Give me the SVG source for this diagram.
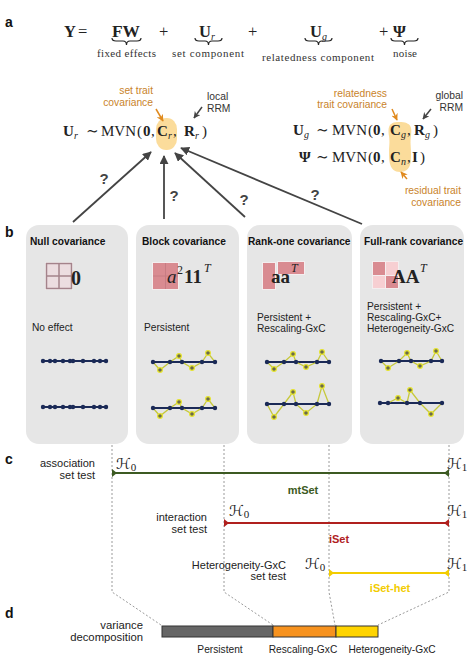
<svg xmlns="http://www.w3.org/2000/svg" width="474" height="656" viewBox="0 0 474 656">
<defs>
<style>
.lbl{font-family:"Liberation Sans",Arial,sans-serif;font-weight:bold;font-size:14px;fill:#111}
.sans{font-family:"Liberation Sans",Arial,sans-serif;font-size:10.2px;fill:#222}
.hdr{font-family:"Liberation Sans",Arial,sans-serif;font-size:10.2px;font-weight:bold;fill:#111}
.c11{font-family:"Liberation Sans",Arial,sans-serif;font-size:11px;fill:#222}
.orn{font-family:"Liberation Sans",Arial,sans-serif;font-size:10.3px;fill:#c9832a}
.gry{font-family:"Liberation Sans",Arial,sans-serif;font-size:10.3px;fill:#333}
.q{font-family:"Liberation Sans",Arial,sans-serif;font-size:15px;font-weight:bold;fill:#444}
.m{font-family:"Liberation Serif","DejaVu Serif",serif;font-size:15px;fill:#222}
.mb{font-family:"Liberation Serif","DejaVu Serif",serif;font-size:15px;font-weight:bold;fill:#222}
.mi{font-family:"Liberation Serif","DejaVu Serif",serif;font-size:10px;font-style:italic;fill:#222}
.ms{font-family:"Liberation Serif","DejaVu Serif",serif;font-size:11px;fill:#333}
.ea{font-size:16.5px}
.cal{font-family:"DejaVu Serif","DejaVu Sans",serif;font-size:15px;font-style:italic;fill:#222}
.sub0{font-family:"Liberation Serif",serif;font-size:11px;font-style:normal}
.brace{fill:none;stroke:#222;stroke-width:1.2}
.box{fill:#e6e6e6}
.navy{stroke:#1b2a57;stroke-width:2.2;fill:none}
.nd{fill:#1b2a57}
.yl{stroke:#c6c83c;stroke-width:1.3;fill:none}
.yd{fill:#6b6b4a;stroke:#e8e630;stroke-width:1.2}
.dot{stroke:#9a9a9a;stroke-width:1;stroke-dasharray:2,2;fill:none}
.arr{stroke:#444;stroke-width:1.8;fill:none;marker-end:url(#ah)}
.oarr{stroke:#e08a1e;stroke-width:1.5;fill:none;marker-end:url(#oh)}
.garr{stroke:#444;stroke-width:1.5;fill:none;marker-end:url(#gh)}
</style>
<marker id="ah" viewBox="0 0 10 10" refX="9" refY="5" markerWidth="9" markerHeight="9" markerUnits="userSpaceOnUse" orient="auto"><path d="M0,0 L10,5 L0,10 Z" fill="#444"/></marker>
<marker id="oh" viewBox="0 0 10 10" refX="9" refY="5" markerWidth="7" markerHeight="7" markerUnits="userSpaceOnUse" orient="auto"><path d="M0,0 L10,5 L0,10 L3,5 Z" fill="#e08a1e"/></marker>
<marker id="gh" viewBox="0 0 10 10" refX="9" refY="5" markerWidth="7" markerHeight="7" markerUnits="userSpaceOnUse" orient="auto"><path d="M0,0 L10,5 L0,10 L3,5 Z" fill="#444"/></marker>
<marker id="tgreen" viewBox="0 0 6 8" refX="6" refY="4" markerWidth="6" markerHeight="8" markerUnits="userSpaceOnUse" orient="auto-start-reverse"><path d="M6,0 V8 L1,4 Z" fill="#3c5a22"/></marker>
<marker id="tred" viewBox="0 0 6 8" refX="6" refY="4" markerWidth="6" markerHeight="8" markerUnits="userSpaceOnUse" orient="auto-start-reverse"><path d="M6,0 V8 L1,4 Z" fill="#b0201e"/></marker>
<marker id="tyel" viewBox="0 0 6 8" refX="6" refY="4" markerWidth="6" markerHeight="8" markerUnits="userSpaceOnUse" orient="auto-start-reverse"><path d="M6,0 V8 L1,4 Z" fill="#f2cc00"/></marker>
</defs>
<rect width="474" height="656" fill="#ffffff"/>

<!-- panel labels -->
<text class="lbl" x="5" y="27">a</text>
<text class="lbl" x="5" y="237">b</text>
<text class="lbl" x="5" y="464">c</text>
<text class="lbl" x="5" y="618">d</text>

<!-- panel a equation -->
<g id="eq-a">
<text class="mb ea" x="64" y="37">Y</text>
<text class="m ea" x="78" y="37">=</text>
<text class="mb ea" x="112" y="37" textLength="28" lengthAdjust="spacingAndGlyphs">FW</text>
<path class="brace" d="M112,38 Q112,41 116,41 L123,41 Q126.5,41 126.5,45 Q126.5,41 130,41 L137,41 Q141,41 141,38"/>
<text class="ms" x="126.5" y="57" text-anchor="middle" textLength="59" lengthAdjust="spacing">fixed effects</text>
<text class="m ea" x="159" y="37">+</text>
<text class="mb ea" x="199" y="37">U</text><text class="mi" x="211" y="40">r</text>
<path class="brace" d="M195,38 Q195,41 199,41 L205,41 Q208.5,41 208.5,45 Q208.5,41 212,41 L218,41 Q222,41 222,38"/>
<text class="ms" x="208" y="57" text-anchor="middle" textLength="72" lengthAdjust="spacing">set component</text>
<text class="m ea" x="248" y="37">+</text>
<text class="mb ea" x="310" y="37">U</text><text class="mi" x="322" y="40">g</text>
<path class="brace" d="M305,38 Q305,41 309,41 L315,41 Q318.5,41 318.5,45 Q318.5,41 322,41 L328,41 Q332,41 332,38"/>
<text class="ms" x="318" y="61" text-anchor="middle" textLength="112" lengthAdjust="spacing">relatedness component</text>
<text class="m ea" x="379" y="37">+</text>
<text class="mb ea" x="393" y="37">Ψ</text>
<path class="brace" d="M391,38 Q391,41 395,41 L401,41 Q404.5,41 404.5,45 Q404.5,41 408,41 L414,41 Q418,41 418,38"/>
<text class="ms" x="405" y="57" text-anchor="middle" textLength="24" lengthAdjust="spacing">noise</text>
</g>

<!-- highlight blobs -->
<g id="blobs">
<rect x="156" y="118" width="21" height="32" rx="10" ry="11" fill="#f9d07a" opacity="0.75"/>
<path d="M399,122 C412,122 412,128 411,136 C410,143 411,146 411,152 C411,160 412,172 400,172 C389,172 389,160 389,152 C389,146 390,143 389,136 C388,128 388,122 399,122 Z" fill="#f9d07a" opacity="0.75"/>
</g>

<!-- Ur equation -->
<g id="eq-ur">
<text class="mb" x="63" y="136">U</text><text class="mi" x="74" y="139">r</text>
<text class="m" x="86" y="136">∼</text>
<text class="m" x="101" y="136" textLength="35" lengthAdjust="spacingAndGlyphs">MVN</text>
<text class="m" x="137" y="136">(</text>
<text class="mb" x="143" y="136">0</text><text class="m" x="151" y="136">,</text>
<text class="mb" x="157" y="136">C</text><text class="mi" x="168" y="139">r</text><text class="m" x="173" y="136">,</text>
<text class="mb" x="184" y="136">R</text><text class="mi" x="195" y="139">r</text><text class="m" x="202" y="136">)</text>
</g>
<g id="lbl-set-trait">
<text class="orn" x="153" y="94" text-anchor="end">set trait</text>
<text class="orn" x="153" y="106" text-anchor="end">covariance</text>
</g>
<g id="lbl-local">
<text class="gry" x="207" y="100">local</text>
<text class="gry" x="207" y="112">RRM</text>
</g>

<!-- Ug / Psi equations -->
<g id="eq-ug">
<text class="mb" x="293" y="135">U</text><text class="mi" x="304" y="138">g</text>
<text class="m" x="316" y="135">∼</text>
<text class="m" x="332" y="135" textLength="35" lengthAdjust="spacingAndGlyphs">MVN</text>
<text class="m" x="368" y="135">(</text>
<text class="mb" x="373" y="135">0</text><text class="m" x="381" y="135">,</text>
<text class="mb" x="390" y="135">C</text><text class="mi" x="401" y="138">g</text><text class="m" x="407" y="135">,</text>
<text class="mb" x="414" y="135">R</text><text class="mi" x="425" y="138">g</text><text class="m" x="433" y="135">)</text>
</g>
<g id="eq-psi">
<text class="mb" x="299" y="162">Ψ</text>
<text class="m" x="316" y="162">∼</text>
<text class="m" x="332" y="162" textLength="35" lengthAdjust="spacingAndGlyphs">MVN</text>
<text class="m" x="368" y="162">(</text>
<text class="mb" x="373" y="162">0</text><text class="m" x="381" y="162">,</text>
<text class="mb" x="390" y="162">C</text><text class="mi" x="401" y="165">n</text><text class="m" x="407" y="162">,</text>
<text class="mb" x="412" y="162">I</text><text class="m" x="420" y="162">)</text>
</g>
<g id="lbl-rel-trait">
<text class="orn" x="387" y="97" text-anchor="end">relatedness</text>
<text class="orn" x="387" y="108" text-anchor="end">trait covariance</text>
</g>
<g id="lbl-global">
<text class="gry" x="463" y="99" text-anchor="end">global</text>
<text class="gry" x="463" y="111" text-anchor="end">RRM</text>
</g>
<g id="lbl-residual">
<text class="orn" x="461" y="194" text-anchor="end">residual trait</text>
<text class="orn" x="461" y="206" text-anchor="end">covariance</text>
</g>

<!-- connectors -->
<g id="connectors">
<line class="oarr" x1="156" y1="109" x2="163" y2="121"/>
<line class="garr" x1="202" y1="107" x2="194" y2="118"/>
<line class="oarr" x1="392" y1="109" x2="397" y2="120"/>
<line class="garr" x1="431" y1="109" x2="423" y2="119"/>
<line class="oarr" x1="407" y1="179" x2="401" y2="172"/>
<line class="arr" x1="73" y1="222" x2="151" y2="152"/>
<line class="arr" x1="164" y1="219" x2="164" y2="156"/>
<line class="arr" x1="245" y1="217" x2="175" y2="153"/>
<line class="arr" x1="362" y1="224" x2="181" y2="148"/>
<text class="q" x="104" y="184" text-anchor="middle">?</text>
<text class="q" x="174" y="201" text-anchor="middle">?</text>
<text class="q" x="244" y="205" text-anchor="middle">?</text>
<text class="q" x="315" y="200" text-anchor="middle">?</text>
</g>

<!-- panel b -->
<g id="box-null">
<rect class="box" x="26" y="225" width="102" height="219" rx="13"/>
<text class="hdr" x="30" y="245">Null covariance</text>
<rect x="45" y="262" width="28" height="28" fill="#f4f0f1"/>
<rect x="46.5" y="263.5" width="25" height="25" fill="#ecdde0" stroke="#a4838b" stroke-width="1.5"/>
<line x1="59" y1="263.5" x2="59" y2="288.5" stroke="#a4838b" stroke-width="1.5"/>
<line x1="46.5" y1="276" x2="71.5" y2="276" stroke="#a4838b" stroke-width="1.5"/>
<text class="mb" x="71" y="285" style="font-size:20px">0</text>
<text class="sans" x="32" y="331">No effect</text>
<line class="navy" x1="42" y1="361" x2="108" y2="361"/>
<g class="nd"><circle cx="43" cy="361" r="2.2"/><circle cx="50" cy="361" r="2.2"/><circle cx="55" cy="361" r="2.2"/><circle cx="63" cy="361" r="2.2"/><circle cx="70" cy="361" r="2.2"/><circle cx="73" cy="361" r="2.2"/><circle cx="83" cy="361" r="2.2"/><circle cx="94" cy="361" r="2.2"/><circle cx="100" cy="361" r="2.2"/><circle cx="106" cy="361" r="2.2"/></g>
<line class="navy" x1="42" y1="407" x2="108" y2="407"/>
<g class="nd"><circle cx="43" cy="407" r="2.2"/><circle cx="50" cy="407" r="2.2"/><circle cx="55" cy="407" r="2.2"/><circle cx="63" cy="407" r="2.2"/><circle cx="70" cy="407" r="2.2"/><circle cx="73" cy="407" r="2.2"/><circle cx="83" cy="407" r="2.2"/><circle cx="94" cy="407" r="2.2"/><circle cx="100" cy="407" r="2.2"/><circle cx="106" cy="407" r="2.2"/></g>
</g>

<g id="box-block">
<rect class="box" x="136" y="225" width="103" height="219" rx="13"/>
<text class="hdr" x="142" y="245">Block covariance</text>
<rect x="152" y="262" width="27" height="28" fill="#f4eeef"/>
<rect x="153" y="263" width="25" height="26" fill="#d98b91"/>
<line x1="165.5" y1="263" x2="165.5" y2="289" stroke="#c77c83" stroke-width="1"/>
<line x1="153" y1="276" x2="178" y2="276" stroke="#c77c83" stroke-width="1"/>
<text class="m" x="167" y="283" style="font-size:19px;font-style:italic">a</text>
<text class="m" x="177" y="274" style="font-size:12px">2</text>
<text class="mb" x="184" y="283" style="font-size:19px">11</text>
<text class="m" x="204" y="272" style="font-size:12px;font-style:italic">T</text>
<text class="sans" x="144" y="331">Persistent</text>
<line class="navy" x1="152" y1="362" x2="217" y2="362"/>
<polyline class="yl" points="153,362 160,370 170,362 179,356 182,362 192,368 202,362 208,353 215,362"/>
<g class="nd"><circle cx="153" cy="362" r="2.2"/><circle cx="170" cy="362" r="2.2"/><circle cx="182" cy="362" r="2.2"/><circle cx="202" cy="362" r="2.2"/><circle cx="215" cy="362" r="2.2"/></g>
<g class="yd"><circle cx="160" cy="370" r="2.4"/><circle cx="179" cy="356" r="2.4"/><circle cx="192" cy="368" r="2.4"/><circle cx="208" cy="353" r="2.4"/></g>
<line class="navy" x1="152" y1="408" x2="217" y2="408"/>
<polyline class="yl" points="153,408 160,416 170,408 179,402 182,408 192,414 202,408 208,399 215,408"/>
<g class="nd"><circle cx="153" cy="408" r="2.2"/><circle cx="170" cy="408" r="2.2"/><circle cx="182" cy="408" r="2.2"/><circle cx="202" cy="408" r="2.2"/><circle cx="215" cy="408" r="2.2"/></g>
<g class="yd"><circle cx="160" cy="416" r="2.4"/><circle cx="179" cy="402" r="2.4"/><circle cx="192" cy="414" r="2.4"/><circle cx="208" cy="399" r="2.4"/></g>
</g>

<g id="box-rankone">
<rect class="box" x="247" y="225" width="105" height="219" rx="13"/>
<text class="hdr" x="248" y="245">Rank-one covariance</text>
<rect x="262" y="262" width="14" height="28" fill="#f4eeef"/>
<rect x="263" y="263" width="12" height="26" fill="#d98b91"/>
<rect x="277" y="261" width="28" height="14" fill="#f4eeef"/>
<rect x="278" y="262" width="26" height="12" fill="#d98b91"/>
<text class="mb" x="271" y="283" style="font-size:19px">aa</text>
<text class="m" x="291" y="272" style="font-size:12px;font-style:italic">T</text>
<text class="sans" x="257" y="321">Persistent +</text>
<text class="sans" x="257" y="332">Rescaling-GxC</text>
<line class="navy" x1="265" y1="362" x2="331" y2="362"/>
<polyline class="yl" points="267,362 274,369 284,362 293,354 296,362 306,367 317,362 322,352 329,362"/>
<g class="nd"><circle cx="267" cy="362" r="2.2"/><circle cx="284" cy="362" r="2.2"/><circle cx="296" cy="362" r="2.2"/><circle cx="317" cy="362" r="2.2"/><circle cx="329" cy="362" r="2.2"/></g>
<g class="yd"><circle cx="274" cy="369" r="2.4"/><circle cx="293" cy="354" r="2.4"/><circle cx="306" cy="367" r="2.4"/><circle cx="322" cy="352" r="2.4"/></g>
<line class="navy" x1="265" y1="404" x2="331" y2="404"/>
<polyline class="yl" points="267,404 274,417 284,404 293,392 296,404 306,413 317,404 322,386 329,404"/>
<g class="nd"><circle cx="267" cy="404" r="2.2"/><circle cx="284" cy="404" r="2.2"/><circle cx="296" cy="404" r="2.2"/><circle cx="317" cy="404" r="2.2"/><circle cx="329" cy="404" r="2.2"/></g>
<g class="yd"><circle cx="274" cy="417" r="2.4"/><circle cx="293" cy="392" r="2.4"/><circle cx="306" cy="413" r="2.4"/><circle cx="322" cy="386" r="2.4"/></g>
</g>

<g id="box-fullrank">
<rect class="box" x="360" y="225" width="104" height="219" rx="13"/>
<text class="hdr" x="364" y="245">Full-rank covariance</text>
<rect x="372" y="261" width="27" height="28" fill="#f4eeef"/>
<rect x="373" y="262" width="12" height="13" fill="#d98b91"/>
<rect x="386" y="262" width="12" height="13" fill="#f7cfd2"/>
<rect x="373" y="276" width="12" height="12" fill="#f7cfd2"/>
<rect x="386" y="276" width="12" height="12" fill="#d98b91"/>
<text class="mb" x="392" y="283" style="font-size:19px">AA</text>
<text class="m" x="420" y="272" style="font-size:12px;font-style:italic">T</text>
<text class="sans" x="367" y="310">Persistent +</text>
<text class="sans" x="367" y="321">Rescaling-GxC+</text>
<text class="sans" x="367" y="332">Heterogeneity-GxC</text>
<line class="navy" x1="379" y1="361" x2="444" y2="361"/>
<polyline class="yl" points="381,361 388,368 399,361 407,353 411,361 420,366 431,361 436,351 442,361"/>
<g class="nd"><circle cx="381" cy="361" r="2.2"/><circle cx="399" cy="361" r="2.2"/><circle cx="411" cy="361" r="2.2"/><circle cx="431" cy="361" r="2.2"/><circle cx="442" cy="361" r="2.2"/></g>
<g class="yd"><circle cx="388" cy="368" r="2.4"/><circle cx="407" cy="353" r="2.4"/><circle cx="420" cy="366" r="2.4"/><circle cx="436" cy="351" r="2.4"/></g>
<line class="navy" x1="379" y1="403" x2="444" y2="403"/>
<polyline class="yl" points="388,403 398,398 407,403 410,390 420,403 431,414 442,403"/>
<g class="nd"><circle cx="380" cy="403" r="2.2"/><circle cx="388" cy="403" r="2.2"/><circle cx="407" cy="403" r="2.2"/><circle cx="420" cy="403" r="2.2"/><circle cx="442" cy="403" r="2.2"/></g>
<g class="yd"><circle cx="398" cy="398" r="2.4"/><circle cx="410" cy="390" r="2.4"/><circle cx="431" cy="414" r="2.4"/></g>
</g>

<!-- dotted guides -->
<g id="guides">
<polyline class="dot" points="112,445 112,592 161,625"/>
<polyline class="dot" points="224,445 224,592 273,625"/>
<polyline class="dot" points="329,445 329,592 335,625"/>
<polyline class="dot" points="449,445 449,592 378,625"/>
</g>

<!-- panel c -->
<g id="test-mtset">
<text class="c11" x="95" y="467" text-anchor="end">association</text>
<text class="c11" x="95" y="479" text-anchor="end">set test</text>
<line x1="112" y1="473" x2="449" y2="473" stroke="#3c5a22" stroke-width="2" marker-start="url(#tgreen)" marker-end="url(#tgreen)"/>
<text class="cal" x="116" y="469">ℋ<tspan class="sub0" dy="2">0</tspan></text>
<text class="cal" x="447" y="469">ℋ<tspan class="sub0" dy="2">1</tspan></text>
<text class="hdr" x="303" y="494" text-anchor="middle" style="fill:#3c5a22;font-size:11px">mtSet</text>
</g>
<g id="test-iset">
<text class="c11" x="207" y="521" text-anchor="end">interaction</text>
<text class="c11" x="207" y="533" text-anchor="end">set test</text>
<line x1="224" y1="523" x2="449" y2="523" stroke="#b0201e" stroke-width="2" marker-start="url(#tred)" marker-end="url(#tred)"/>
<text class="cal" x="229" y="516">ℋ<tspan class="sub0" dy="2">0</tspan></text>
<text class="cal" x="447" y="516">ℋ<tspan class="sub0" dy="2">1</tspan></text>
<text class="hdr" x="339" y="543" text-anchor="middle" style="fill:#b0201e;font-size:11px">iSet</text>
</g>
<g id="test-isethet">
<text class="c11" x="286" y="569" text-anchor="end">Heterogeneity-GxC</text>
<text class="c11" x="286" y="580" text-anchor="end">set test</text>
<line x1="329" y1="573" x2="449" y2="573" stroke="#f2cc00" stroke-width="2" marker-start="url(#tyel)" marker-end="url(#tyel)"/>
<text class="cal" x="305" y="569">ℋ<tspan class="sub0" dy="2">0</tspan></text>
<text class="cal" x="447" y="569">ℋ<tspan class="sub0" dy="2">1</tspan></text>
<text class="hdr" x="390" y="592" text-anchor="middle" style="fill:#f2cc00;font-size:11px">iSet-het</text>
</g>

<!-- panel d -->
<g id="variance-bar">
<text class="c11" x="143" y="629" text-anchor="end" style="font-size:11.3px">variance</text>
<text class="c11" x="143" y="641" text-anchor="end" style="font-size:11.3px">decomposition</text>
<rect x="162" y="626" width="111" height="11" fill="#666666" stroke="#333" stroke-width="1"/>
<rect x="273" y="626" width="63" height="11" fill="#f7921e" stroke="#333" stroke-width="1"/>
<rect x="336" y="626" width="42" height="11" fill="#ffd400" stroke="#333" stroke-width="1"/>
<text class="sans" x="220" y="653" text-anchor="middle">Persistent</text>
<text class="sans" x="303" y="653" text-anchor="middle">Rescaling-GxC</text>
<text class="sans" x="392" y="653" text-anchor="middle">Heterogeneity-GxC</text>
</g>
</svg>
